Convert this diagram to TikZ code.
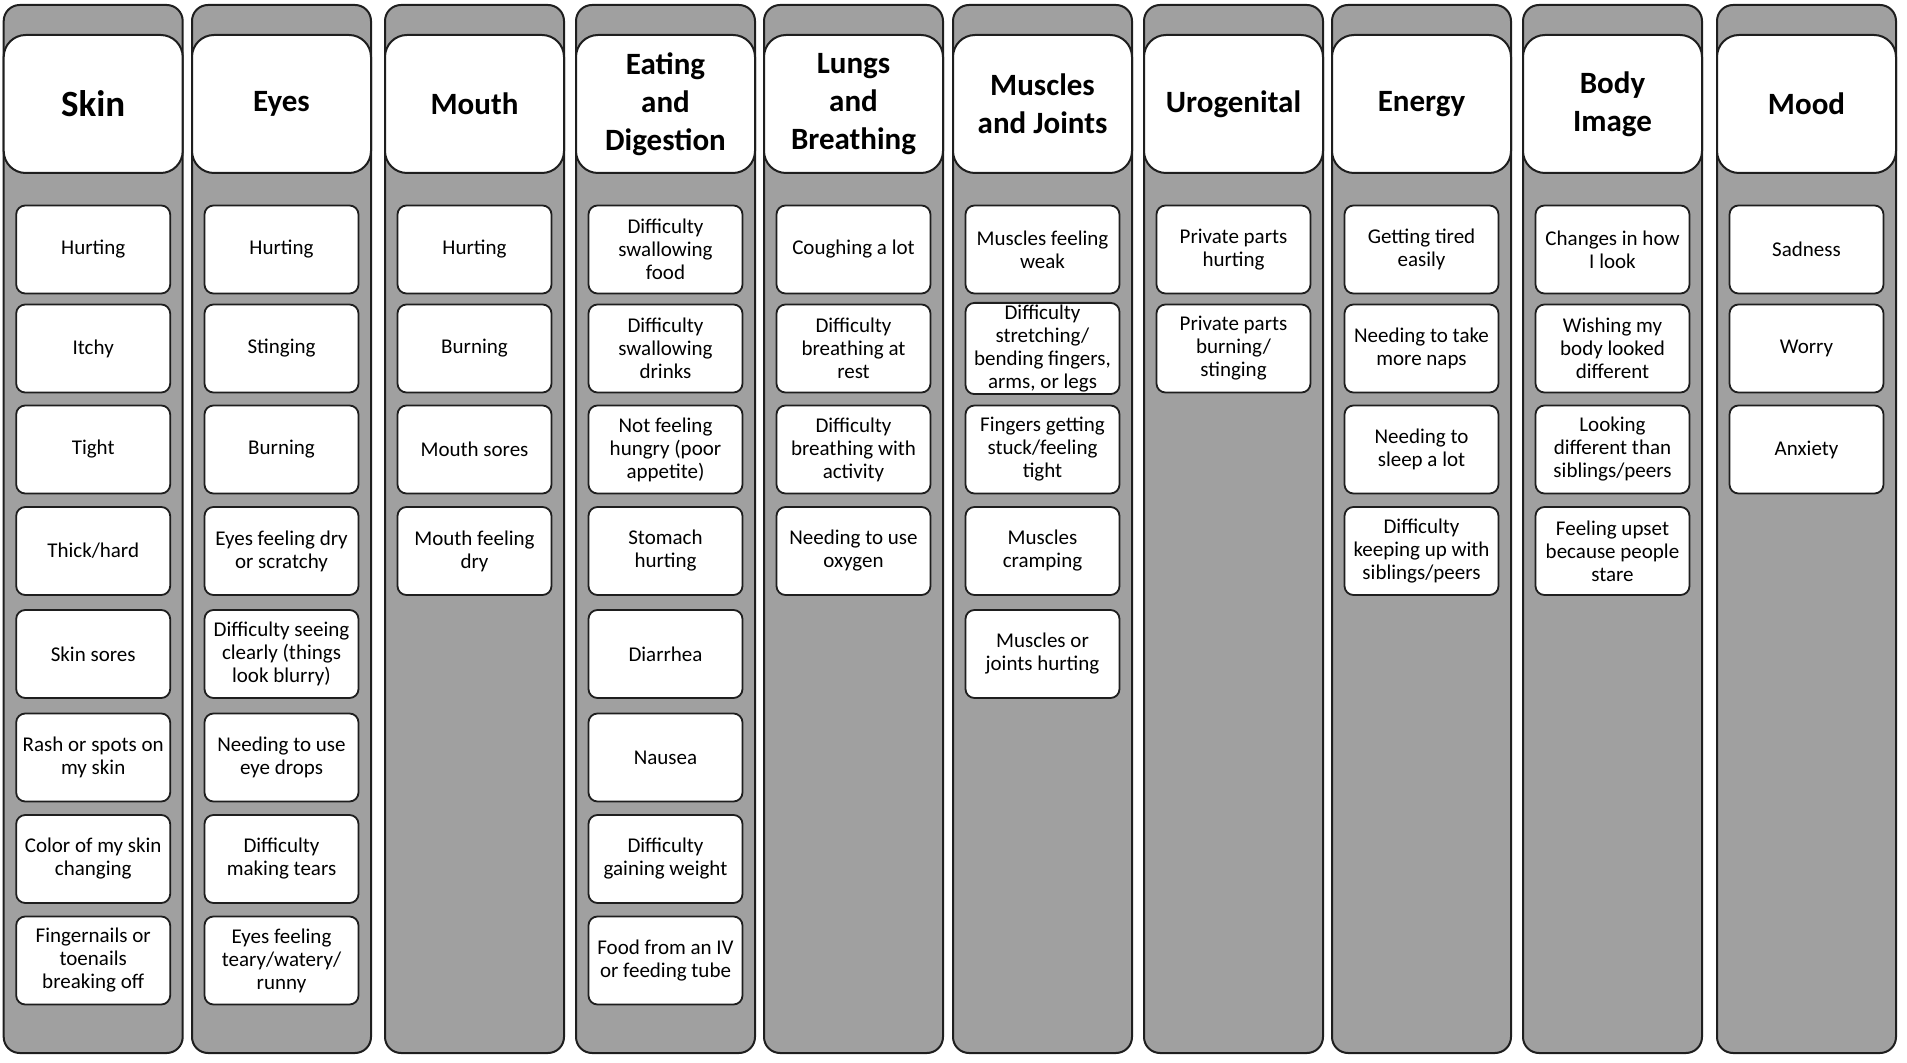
\documentclass[tikz,border=0pt]{standalone}
\usepackage{fontspec}
\setmainfont{Carlito}
\usepackage{xcolor}
\usepackage{tikz}

\definecolor{colgrey}{RGB}{160,160,160}
\definecolor{edge}{RGB}{30,30,30}

\begin{document}
\begin{tikzpicture}[x=0.5pt, y=-0.5pt,
	column/.style={draw=edge, line width=1pt, fill=colgrey, rounded corners=8pt, minimum width=89.5pt, minimum height=524pt},
	headbox/.style={draw=edge, line width=1pt, fill=white, rounded corners=11pt, minimum width=89.5pt, minimum height=69pt, align=center, font=\bfseries\fontsize{15.5}{19}\selectfont},
	itembox/.style={draw=edge, line width=0.9pt, fill=white, rounded corners=4.5pt, minimum width=77pt, minimum height=44pt, inner sep=1pt, align=center, font=\fontsize{10.5}{11.5}\selectfont}]
	\useasboundingbox (0,0) rectangle (1907,1063);
	\def\rowys{249.5,348.5,449.5,551,654,757.5,859,960.5};
	
	\foreach \i/\cx/\head/\items in {
		1/93.2/{\fontsize{18.5}{20}\selectfont Skin}/{Hurting,Itchy,Tight,Thick/hard,Skin sores,Rash or spots on\\my skin,Color of my skin\\changing,Fingernails or\\toenails\\breaking off},
		2/281.5/Eyes/{Hurting,Stinging,Burning,Eyes feeling dry\\or scratchy,Difficulty seeing\\clearly (things\\look blurry),Needing to use\\eye drops,Difficulty\\making tears,Eyes feeling\\teary/watery/\\runny},
		3/474.5/Mouth/{Hurting,Burning,Mouth sores,Mouth feeling\\dry},
		4/665.5/Eating\\and\\Digestion/{Difficulty\\swallowing\\food,Difficulty\\swallowing\\drinks,Not feeling\\hungry (poor\\appetite),Stomach\\hurting,Diarrhea,Nausea,Difficulty\\gaining weight,Food from an IV\\or feeding tube},
		5/853.5/Lungs\\and\\Breathing/{Coughing a lot,Difficulty\\breathing at\\rest,Difficulty\\breathing with\\activity,Needing to use\\oxygen},
		6/1042.5/Muscles\\and Joints/{Muscles feeling\\weak,{Difficulty\\stretching/\\bending fingers,\\arms, or legs},Fingers getting\\stuck/feeling\\tight,Muscles\\cramping,Muscles or\\joints hurting},
		7/1233.5/Urogenital/{Private parts\\hurting,Private parts\\burning/\\stinging},
		8/1421.5/Energy/{Getting tired\\easily,Needing to take\\more naps,Needing to\\sleep a lot,Difficulty\\keeping up with\\siblings/peers},
		9/1612.5/Body\\Image/{Changes in how\\I look,Wishing my\\body looked\\different,Looking\\different than\\siblings/peers,Feeling upset\\because people\\stare},
		10/1806.5/Mood/{Sadness,Worry,Anxiety}}{
		\node[column] (col\i) at (\cx,529) {};
		\node[headbox] (head\i) at (\cx,104) {\head};
		\foreach \txt [count=\k] in \items {
			\pgfmathsetmacro\ry{{\rowys}[\k-1]}
			\node[itembox] (item\i-\k) at (\cx,\ry) {\txt};
		}
	}
\end{tikzpicture}
\end{document}
